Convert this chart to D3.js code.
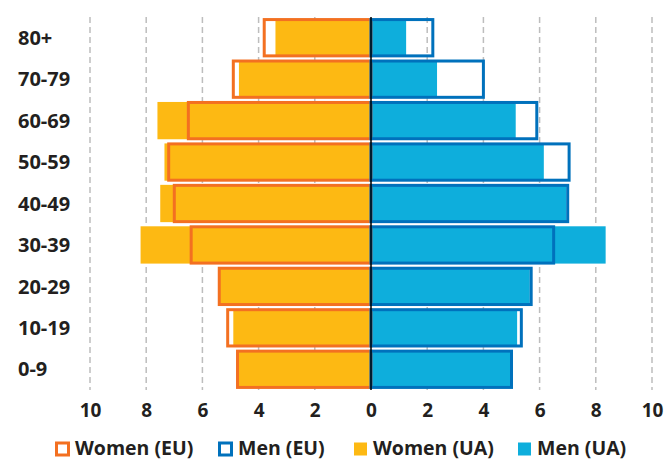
<!DOCTYPE html>
<html>
<head>
<meta charset="utf-8">
<script src="https://cdn.jsdelivr.net/npm/d3@7"></script>
<style>
  html, body { margin: 0; padding: 0; background: #fff; }
  svg { display: block; font-family: "Open Sans", sans-serif; }
</style>
</head>
<body>
<div id="chart"></div>
<script>
// age groups, top to bottom
const ages = ["80+", "70-79", "60-69", "50-59", "40-49", "30-39", "20-29", "10-19", "0-9"];
// share of population, %
const womenEU = [3.8, 4.9, 6.5, 7.2, 7.0, 6.4, 5.4, 5.1, 4.75];
const menEU   = [2.2, 4.0, 5.9, 7.05, 7.0, 6.5, 5.7, 5.35, 5.0];
const womenUA = [3.4, 4.7, 7.6, 7.35, 7.5, 8.2, 5.4, 4.9, 4.7];
const menUA   = [1.25, 2.35, 5.15, 6.15, 6.95, 8.35, 5.65, 5.2, 4.95];
const ticks = [-10, -8, -6, -4, -2, 0, 2, 4, 6, 8, 10];
const legendItems = ["Women (EU)", "Men (EU)", "Women (UA)", "Men (UA)"];

const width = 667, height = 461;
const plotTop = 17, plotBottom = 390;
const cText = "#231f20";
const cOrange = "#f37021", cYellow = "#fdb913", cNavy = "#0071bc", cSky = "#0eaedc";

const svg = d3.select("#chart").append("svg")
  .attr("width", width).attr("height", height);

const x = d3.scaleLinear().domain([-10, 10]).range([90, 652]);
const y = d3.scaleBand().domain(ages).range([plotTop, plotBottom])
  .paddingInner(0.1).paddingOuter(0.05);

// dashed grid
svg.append("g").selectAll("line")
  .data(ticks.filter(t => t !== 0))
  .join("line")
    .attr("x1", d => x(d)).attr("x2", d => x(d))
    .attr("y1", plotTop).attr("y2", plotBottom)
    .attr("stroke", "#bdbdbd").attr("stroke-width", 1.5)
    .attr("stroke-dasharray", "6,4");

const rows = ages.map((a, i) => ({
  age: a, wEU: womenEU[i], mEU: menEU[i], wUA: womenUA[i], mUA: menUA[i]
}));

// UA filled bars
svg.append("g").selectAll("rect")
  .data(rows).join("rect")
    .attr("x", d => x(-d.wUA)).attr("width", d => x(0) - x(-d.wUA))
    .attr("y", d => y(d.age)).attr("height", y.bandwidth())
    .attr("fill", cYellow);
svg.append("g").selectAll("rect")
  .data(rows).join("rect")
    .attr("x", x(0)).attr("width", d => x(d.mUA) - x(0))
    .attr("y", d => y(d.age)).attr("height", y.bandwidth())
    .attr("fill", cSky);

// EU outlined bars
svg.append("g").selectAll("rect")
  .data(rows).join("rect")
    .attr("x", d => x(-d.wEU)).attr("width", d => x(0) - x(-d.wEU))
    .attr("y", d => y(d.age) + 0.5).attr("height", y.bandwidth() - 1)
    .attr("fill", "none").attr("stroke", cOrange).attr("stroke-width", 3);
svg.append("g").selectAll("rect")
  .data(rows).join("rect")
    .attr("x", x(0)).attr("width", d => x(d.mEU) - x(0))
    .attr("y", d => y(d.age) + 0.5).attr("height", y.bandwidth() - 1)
    .attr("fill", "none").attr("stroke", cNavy).attr("stroke-width", 3);

// zero line
svg.append("line")
  .attr("x1", x(0)).attr("x2", x(0))
  .attr("y1", plotTop).attr("y2", plotBottom)
  .attr("stroke", "#000").attr("stroke-width", 1.5);

// age labels
svg.append("g").selectAll("text")
  .data(ages).join("text")
    .attr("x", 18)
    .attr("y", d => y(d) + y.bandwidth() / 2)
    .attr("dy", "0.36em")
    .attr("font-size", 20).attr("font-weight", 700)
    .attr("fill", cText)
    .text(d => d);

// x axis labels
const xAxis = d3.axisBottom(x).tickValues(ticks)
  .tickFormat(d => Math.abs(d)).tickSize(0).tickPadding(0);
const ax = svg.append("g").attr("transform", `translate(0,${plotBottom})`).call(xAxis);
ax.select(".domain").remove();
ax.selectAll("text")
  .attr("y", 26.5).attr("dy", 0)
  .attr("font-size", 19).attr("font-weight", 700)
  .attr("font-family", "Open Sans, sans-serif")
  .attr("fill", cText);

// legend
const legendX = [55, 218, 354, 518];
const lg = svg.append("g");
legendItems.forEach((name, i) => {
  const g = lg.append("g").attr("transform", `translate(${legendX[i]},0)`);
  if (i < 2) {
    g.append("rect").attr("x", 1.5).attr("y", 443).attr("width", 12).attr("height", 12)
      .attr("fill", "#fff").attr("stroke", i === 0 ? cOrange : cNavy).attr("stroke-width", 3);
  } else {
    g.append("rect").attr("x", 0).attr("y", 442.5).attr("width", 13).attr("height", 13)
      .attr("fill", i === 2 ? cYellow : cSky);
  }
  g.append("text")
    .attr("x", i < 2 ? 20 : 19).attr("y", 455)
    .attr("font-size", 19.5).attr("font-weight", 700)
    .attr("fill", cText)
    .text(name);
});
</script>
</body>
</html>
